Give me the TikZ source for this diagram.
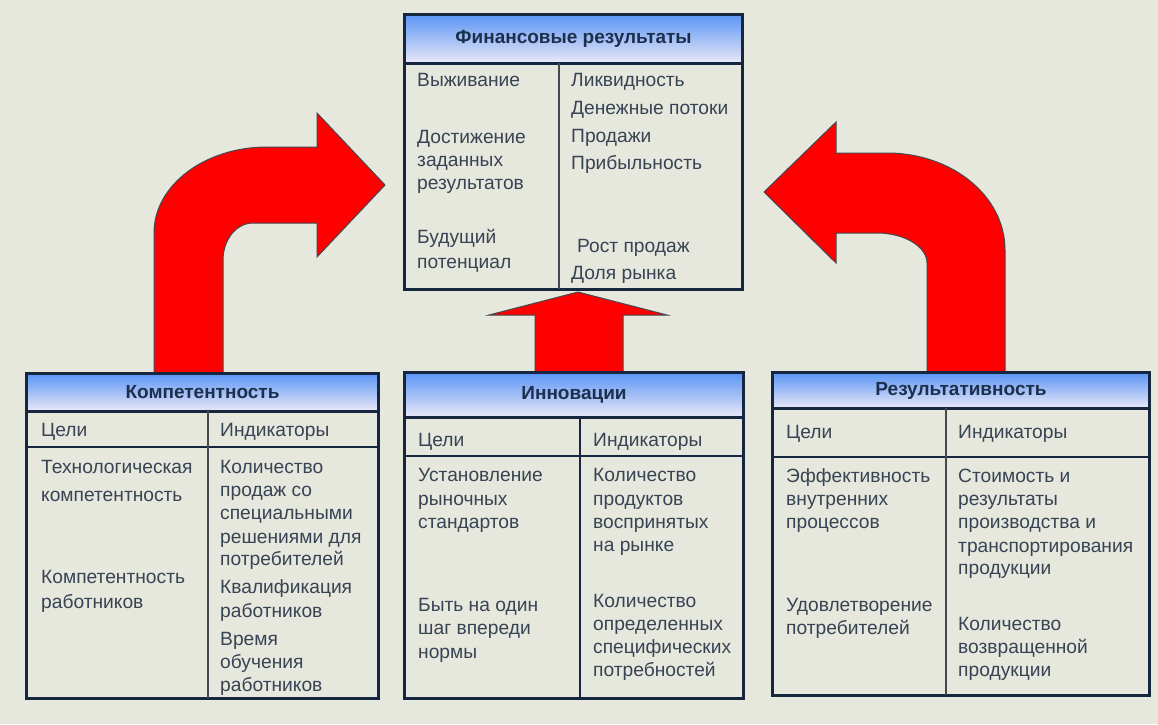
\documentclass[tikz,border=0pt]{standalone}
\usepackage{fontspec}
\setmainfont{Liberation Sans}
\usepackage{tikz}
\usetikzlibrary{positioning, calc}

\definecolor{paper}{RGB}{230, 231, 221}
\definecolor{framenavy}{RGB}{22, 38, 62}
\definecolor{hdrblue}{RGB}{92, 150, 245}
\definecolor{hdrpale}{RGB}{234, 232, 247}
\definecolor{hdrtext}{RGB}{28, 48, 78}
\definecolor{bodytext}{RGB}{56, 68, 84}
\definecolor{divgray}{RGB}{70, 72, 78}
\definecolor{arrowred}{RGB}{255, 0, 0}

\begin{document}
\begin{tikzpicture}[x=1pt, y=-1pt,
    frame/.style={draw=framenavy, line width=3pt},
    rowline/.style={draw=framenavy, line width=1.6pt},
    divider/.style={draw=divgray, line width=2pt},
    hdr/.style={top color=hdrblue, bottom color=hdrpale, inner sep=0pt,
      text=hdrtext, font=\fontsize{19}{22}\selectfont\bfseries},
    txt/.style={anchor=base west, inner sep=0pt, text=bodytext,
      font=\fontsize{19.2}{23}\selectfont},
    bigarrow/.style={fill=arrowred, draw=divgray, line width=1pt, line join=miter}]

  % page
  \fill[paper] (0,0) rectangle (1158,724);
  \useasboundingbox (0,0) rectangle (1158,724);

  % block arrows
  \draw[bigarrow] (154,373) -- (154,233)
    .. controls (154,185) and (205,147) .. (267,147)
    -- (317,147) -- (317,113) -- (385,185) -- (317,257) -- (317,223)
    -- (253,223) .. controls (236,223) and (223,240) .. (223,260)
    -- (223,373) -- cycle;
  \draw[bigarrow] (1005,373) -- (1005,250)
    .. controls (1005,196) and (952,153) .. (887,153)
    -- (836,153) -- (836,122) -- (764,192) -- (836,263) -- (836,233)
    -- (877,233) .. controls (905,233) and (927,247) .. (927,263)
    -- (927,373) -- cycle;
  \draw[bigarrow] (535,373) -- (535,315) -- (489,315) -- (578,292)
    -- (667,315) -- (623,315) -- (623,373) -- cycle;

  % financial results
  \node[hdr, minimum width=337pt, minimum height=48pt] (fin) at (573.5,39) {Финансовые результаты};
  \draw[frame] (fin.north west) rectangle (742,289);
  \draw[frame] (fin.south west) -- (fin.south east);
  \draw[divider] (559,63) -- (559,289);
  \foreach \y/\t [count=\i] in {80/Выживание, 137/Достижение, 160/заданных,
      183/результатов, 237/Будущий, 262/потенциал}
    \node[txt] (finl\i) at (417,\y+6) {\t};
  \foreach \y/\t [count=\i] in {80/Ликвидность, 108/Денежные потоки, 136/Продажи,
      163/Прибыльность, 273/Доля рынка}
    \node[txt] (finr\i) at (571,\y+6) {\t};
  \node[txt] (finr6) at (577,252) {Рост продаж};

  % competence
  \node[hdr, minimum width=351pt, minimum height=37pt] (komp) at (202.5,392.5) {Компетентность};
  \draw[frame] (komp.north west) rectangle (378,698);
  \draw[frame] (komp.south west) -- (komp.south east);
  \draw[rowline] (27,447) -- (378,447);
  \draw[divider] (208,411) -- (208,698);
  \node[txt] (kompg) at (41,436) {Цели};
  \node[txt] (kompi) at (220,436) {Индикаторы};
  \foreach \y/\t [count=\i] in {467/Технологическая, 495/компетентность,
      577/Компетентность, 602/работников}
    \node[txt] (kompl\i) at (41,\y+6) {\t};
  \foreach \y/\t [count=\i] in {467/Количество, 490/продаж со, 513/специальными,
      537/решениями для, 559/потребителей, 587/Квалификация, 611/работников,
      639/Время, 662/обучения, 685/работников}
    \node[txt] (kompr\i) at (220,\y+6) {\t};

  % innovations
  \node[hdr, minimum width=338pt, minimum height=44pt] (inno) at (574,395) {Инновации};
  \draw[frame] (inno.north west) rectangle (743,698);
  \draw[frame] (inno.south west) -- (inno.south east);
  \draw[rowline] (405,456) -- (743,456);
  \draw[divider, draw=framenavy] (580,417) -- (580,698);
  \node[txt] (innog) at (418,446) {Цели};
  \node[txt] (innoi) at (593,446) {Индикаторы};
  \foreach \y/\t [count=\i] in {475/Установление, 499/рыночных, 522/стандартов,
      605/Быть на один, 628/шаг впереди, 652/нормы}
    \node[txt] (innol\i) at (418,\y+6) {\t};
  \foreach \y/\t [count=\i] in {475/Количество, 499/продуктов, 522/воспринятых,
      545/на рынке, 601/Количество, 624/определенных, 647/специфических,
      670/потребностей}
    \node[txt] (innor\i) at (593,\y+6) {\t};

  % performance
  \node[hdr, minimum width=376pt, minimum height=35pt] (perf) at (961,390.5) {Результативность};
  \draw[frame] (perf.north west) rectangle (1149,695);
  \draw[frame] (perf.south west) -- (perf.south east);
  \draw[rowline] (773,457) -- (1149,457);
  \draw[divider] (946,408) -- (946,695);
  \node[txt] (perfg) at (786,438) {Цели};
  \node[txt] (perfi) at (958,438) {Индикаторы};
  \foreach \y/\t [count=\i] in {476/Эффективность, 499/внутренних, 522/процессов,
      605/Удовлетворение, 628/потребителей}
    \node[txt] (perfl\i) at (786,\y+6) {\t};
  \foreach \y/\t [count=\i] in {476/Стоимость и, 499/результаты, 522/производства и,
      546/транспортирования, 568/продукции, 624/Количество, 647/возвращенной,
      670/продукции}
    \node[txt] (perfr\i) at (958,\y+6) {\t};
\end{tikzpicture}
\end{document}
